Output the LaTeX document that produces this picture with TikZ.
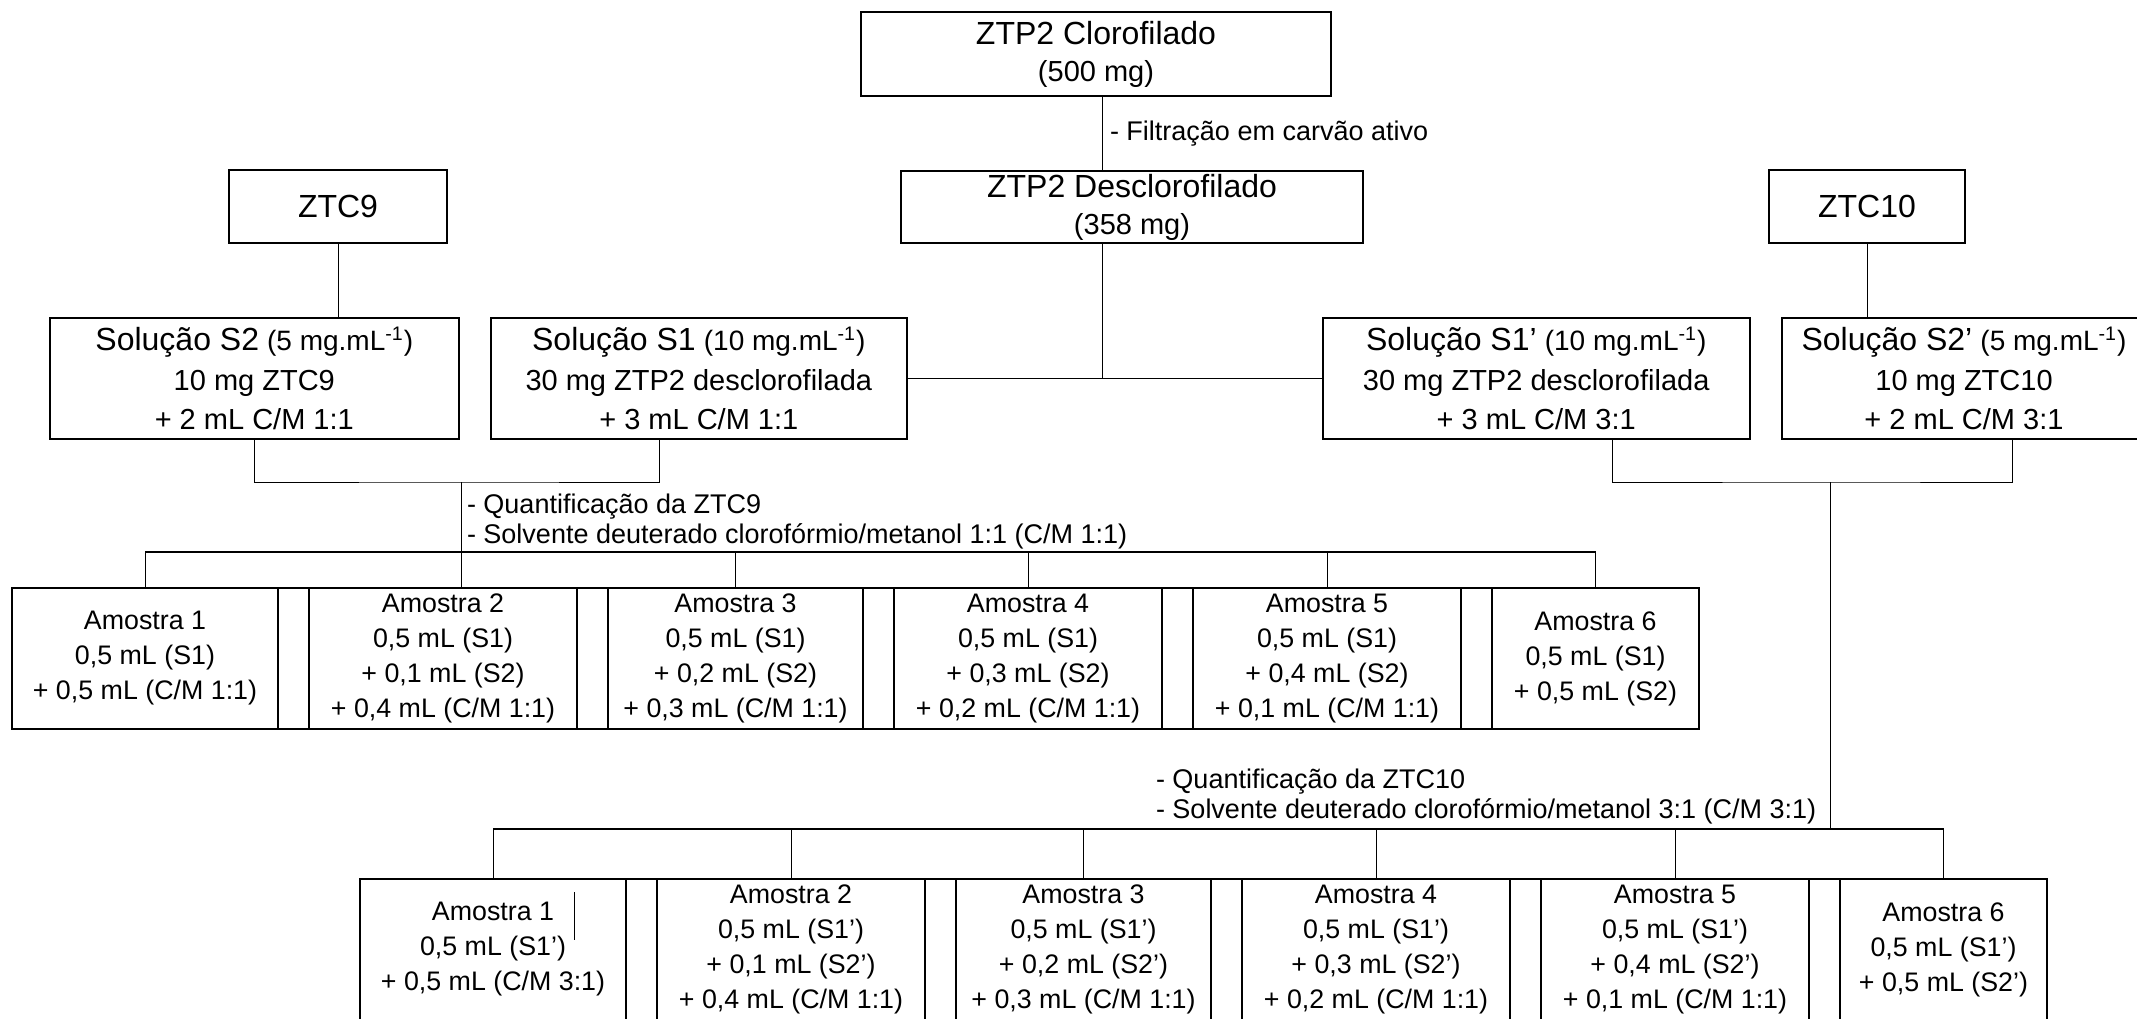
\documentclass[tikz,border=0pt]{standalone}
\usepackage{fontspec}
\setmainfont{Liberation Sans}
\usetikzlibrary{positioning}
\tikzstyle{flow chart}=[
    x=0.5pt, y=-0.5pt, node distance=15.5pt,
    every node/.style={inner sep=0pt, outer sep=0pt, align=center},
    box/.style={draw, line width=1pt},
    head/.style={box, font=\fontsize{16}{18.5}\selectfont},
    sol/.style={box, minimum height=60.5pt, font=\fontsize{14.5}{19.75}\selectfont},
    sample/.style={box, minimum height=70.5pt, font=\fontsize{13.4}{17.5}\selectfont},
    note/.style={anchor=west, align=left, font=\fontsize{13.5}{15}\selectfont},
    link/.style={line width=0.5pt},
    rail/.style={line width=0.8pt},
]
\newcommand{\sizeb}{\fontsize{14.5}{18}\selectfont}
\newcommand{\soltitle}[2]{{\fontsize{16}{19.75}\selectfont Solução #1} {\fontsize{14}{19.75}\selectfont(#2 mg.mL\textsuperscript{-1})}}

\begin{document}
\begin{tikzpicture}[flow chart]
        \useasboundingbox (0,0) rectangle (2137,1018);

        \node[head, minimum width=235pt, minimum height=42pt] (clor) at (1096,54) {ZTP2 Clorofilado\\ \sizeb(500 mg)};
        \node[head, minimum width=230.8pt, minimum height=35.85pt] (desc) at (1132,207) {ZTP2 Desclorofilado\\ \sizeb(358 mg)};
        \node[head, minimum width=109pt, minimum height=36.5pt] (ztc9) at (338,206.5) {ZTC9};
        \node[head, minimum width=97.75pt, minimum height=36.5pt] (ztc10) at (1867,206.5) {ZTC10};

        \node[sol, minimum width=204.3pt] (s2) at (254.3,378.2) {\soltitle{S2}{5}\\ 10 mg ZTC9\\ + 2 mL C/M 1:1};
        \node[sol, minimum width=208.2pt] (s1) at (698.8,378.2) {\soltitle{S1}{10}\\ 30 mg ZTP2 desclorofilada\\ + 3 mL C/M 1:1};
        \node[sol, minimum width=213.6pt] (s1p) at (1536.2,378.2) {\soltitle{S1’}{10}\\ 30 mg ZTP2 desclorofilada\\ + 3 mL C/M 3:1};
        \node[sol, minimum width=182pt] (s2p) at (1964,378.2) {\soltitle{S2’}{5}\\ 10 mg ZTC10\\ + 2 mL C/M 3:1};

        \node[sample, minimum width=133pt, anchor=north west] (a1) at (12,588) {Amostra 1\\ 0,5 mL (S1)\\ + 0,5 mL (C/M 1:1)};
        \node[sample, minimum width=134pt, right=of a1] (a2) {Amostra 2\\ 0,5 mL (S1)\\ + 0,1 mL (S2)\\ + 0,4 mL (C/M 1:1)};
        \node[sample, minimum width=127.5pt, right=of a2] (a3) {Amostra 3\\ 0,5 mL (S1)\\ + 0,2 mL (S2)\\ + 0,3 mL (C/M 1:1)};
        \node[sample, minimum width=134pt, right=of a3] (a4) {Amostra 4\\ 0,5 mL (S1)\\ + 0,3 mL (S2)\\ + 0,2 mL (C/M 1:1)};
        \node[sample, minimum width=134pt, right=of a4] (a5) {Amostra 5\\ 0,5 mL (S1)\\ + 0,4 mL (S2)\\ + 0,1 mL (C/M 1:1)};
        \node[sample, minimum width=103.5pt, right=of a5] (a6) {Amostra 6\\ 0,5 mL (S1)\\ + 0,5 mL (S2)};
        \draw[box] (a1.north west) rectangle (a6.south east);

        \node[sample, minimum width=133pt, anchor=north west] (b1) at (360,879) {Amostra 1\\ 0,5 mL (S1’)\\ + 0,5 mL (C/M 3:1)};
        \node[sample, minimum width=134pt, right=of b1] (b2) {Amostra 2\\ 0,5 mL (S1’)\\ + 0,1 mL (S2’)\\ + 0,4 mL (C/M 1:1)};
        \node[sample, minimum width=127.5pt, right=of b2] (b3) {Amostra 3\\ 0,5 mL (S1’)\\ + 0,2 mL (S2’)\\ + 0,3 mL (C/M 1:1)};
        \node[sample, minimum width=134pt, right=of b3] (b4) {Amostra 4\\ 0,5 mL (S1’)\\ + 0,3 mL (S2’)\\ + 0,2 mL (C/M 1:1)};
        \node[sample, minimum width=134pt, right=of b4] (b5) {Amostra 5\\ 0,5 mL (S1’)\\ + 0,4 mL (S2’)\\ + 0,1 mL (C/M 1:1)};
        \node[sample, minimum width=103.5pt, right=of b5] (b6) {Amostra 6\\ 0,5 mL (S1’)\\ + 0,5 mL (S2’)};
        \draw[box] (b1.north west) rectangle (b6.south east);
        \draw[link] ([shift={(40.75pt,28.75pt)}]b1.center) -- ([shift={(40.75pt,4.75pt)}]b1.center);

        \node[note] (q9) at (467,522) {- Quantificação da ZTC9\\ - Solvente deuterado clorofórmio/metanol 1:1 (C/M 1:1)};
        \node[note] (q10) at (1156,796.5) {- Quantificação da ZTC10\\ - Solvente deuterado clorofórmio/metanol 3:1 (C/M 3:1)};

        \coordinate (k1) at (461,482);
        \coordinate (r1) at (461,552);
        \coordinate (k2) at (1830,482);
        \coordinate (r2) at (1830,829);
        \coordinate (c0) at ([xshift=3pt]clor.south);

        \draw[link] (c0) -- node[note, right=4pt] {- Filtração em carvão ativo} (c0 |- desc.north);
        \draw[link] (c0 |- desc.south) -- (c0 |- s1.east);
        \draw[link] (s1) -- (s1p);
        \draw[link] (ztc9) -- (ztc9 |- s2.north);
        \draw[link] (ztc10) -- (ztc10 |- s2p.north);

        \draw[link] ([xshift=-19.5pt]s1.south) |- (k1) -| (s2.south);
        \draw[link] (k1) -- (k1 |- a2.north);
        \draw[rail] (a1.north |- r1) -- (a6.north |- r1);
        \foreach \n in {a1,a3,a4,a5,a6}
            \draw[link] (\n.north |- r1) -- (\n.north);

        \draw[link] ([xshift=37.9pt]s1p.south) |- (k2) -| ([xshift=24.25pt]s2p.south);
        \draw[link] (k2) -- (r2);
        \draw[rail] (b1.north |- r2) -- (b6.north |- r2);
        \foreach \n in {b1,b2,b3,b4,b5,b6}
            \draw[link] (\n.north |- r2) -- (\n.north);
\end{tikzpicture}
\end{document}
